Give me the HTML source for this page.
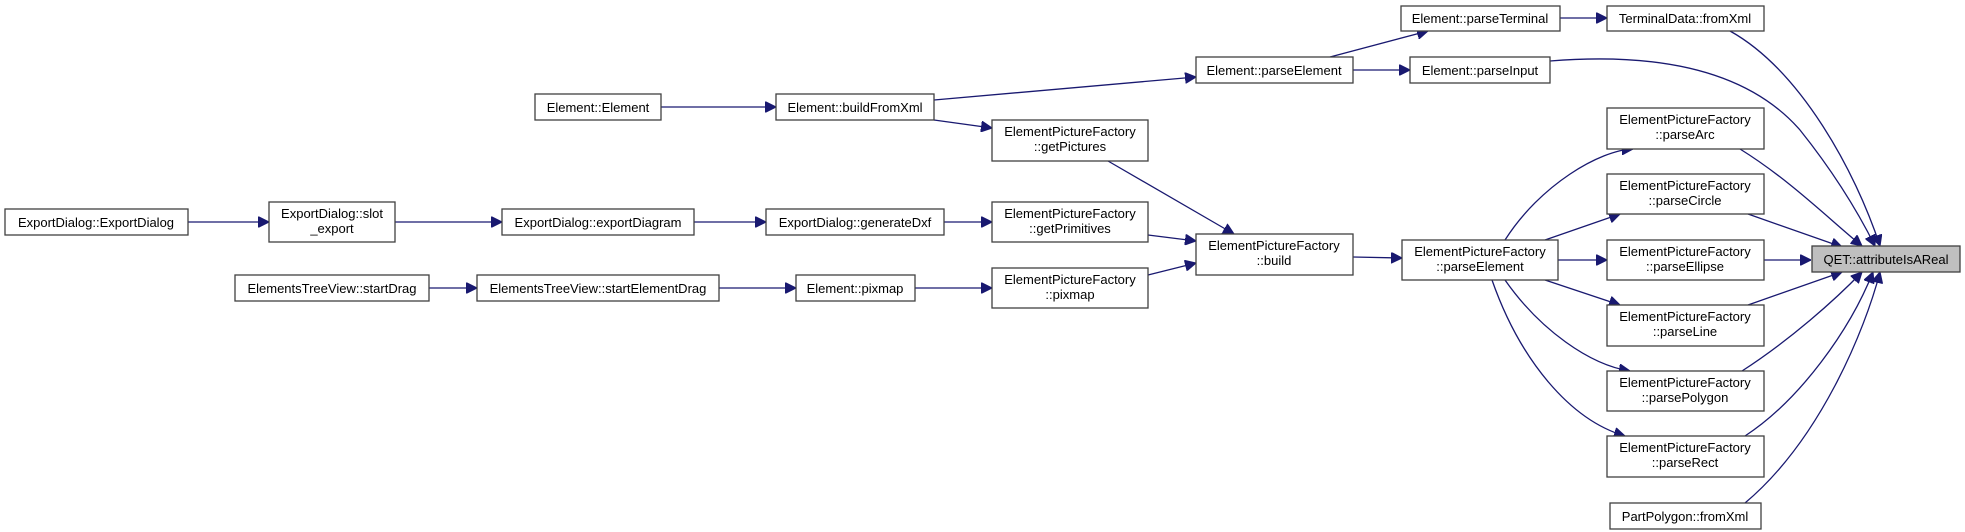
<!DOCTYPE html>
<html><head><meta charset="utf-8"><style>
html,body{margin:0;padding:0;background:#fff;}
svg{display:block;}
text{font-family:"Liberation Sans",Arial,sans-serif;font-size:13px;fill:#000;}
.n{fill:#fff;stroke:#404040;stroke-width:1.3;}
.e{fill:none;stroke:#191970;stroke-width:1.3;}
</style></head><body>
<svg width="1965" height="532" viewBox="0 0 1965 532" xmlns="http://www.w3.org/2000/svg">
<defs>
<marker id="a" viewBox="0 0 10 10" refX="10" refY="5" markerWidth="11" markerHeight="11" markerUnits="userSpaceOnUse" orient="auto">
<path d="M0,0 L10,5 L0,10 z" fill="#191970" stroke="#191970"/>
</marker>
</defs>
<g class="edges">
<path class="e" marker-end="url(#a)" d="M661,107 L776,107"/>
<path class="e" marker-end="url(#a)" d="M934,100 L1196,77"/>
<path class="e" marker-end="url(#a)" d="M934,120 L992,128"/>
<path class="e" marker-end="url(#a)" d="M1353,70 L1410,70"/>
<path class="e" marker-end="url(#a)" d="M1330,57 L1428,31"/>
<path class="e" marker-end="url(#a)" d="M1560,18 L1607,18"/>
<path class="e" marker-end="url(#a)" d="M1730,31 C1800,70 1855,170 1880,246"/>
<path class="e" marker-end="url(#a)" d="M1550,61 C1600,57 1730,50 1800,130 C1840,180 1862,220 1875,246"/>
<path class="e" marker-end="url(#a)" d="M1108,161 L1234,234"/>
<path class="e" marker-end="url(#a)" d="M1148,235 L1196,241"/>
<path class="e" marker-end="url(#a)" d="M1148,275 L1196,263"/>
<path class="e" marker-end="url(#a)" d="M188,222 L269,222"/>
<path class="e" marker-end="url(#a)" d="M395,222 L502,222"/>
<path class="e" marker-end="url(#a)" d="M694,222 L766,222"/>
<path class="e" marker-end="url(#a)" d="M944,222 L992,222"/>
<path class="e" marker-end="url(#a)" d="M429,288 L477,288"/>
<path class="e" marker-end="url(#a)" d="M719,288 L796,288"/>
<path class="e" marker-end="url(#a)" d="M915,288 L992,288"/>
<path class="e" marker-end="url(#a)" d="M1353,257 L1402,258"/>
<path class="e" marker-end="url(#a)" d="M1505,240 C1540,185 1600,150 1633,149"/>
<path class="e" marker-end="url(#a)" d="M1545,240 L1620,214"/>
<path class="e" marker-end="url(#a)" d="M1558,260 L1607,260"/>
<path class="e" marker-end="url(#a)" d="M1545,280 L1620,305"/>
<path class="e" marker-end="url(#a)" d="M1505,280 C1540,330 1590,365 1630,371"/>
<path class="e" marker-end="url(#a)" d="M1492,280 C1520,360 1570,420 1625,436"/>
<path class="e" marker-end="url(#a)" d="M1740,149 C1790,180 1830,220 1862,246"/>
<path class="e" marker-end="url(#a)" d="M1748,214 L1842,247"/>
<path class="e" marker-end="url(#a)" d="M1764,260 L1811,260"/>
<path class="e" marker-end="url(#a)" d="M1748,305 L1842,272"/>
<path class="e" marker-end="url(#a)" d="M1742,371 C1790,340 1835,300 1862,272"/>
<path class="e" marker-end="url(#a)" d="M1745,436 C1800,400 1850,330 1873,272"/>
<path class="e" marker-end="url(#a)" d="M1745,503 C1820,440 1865,330 1880,272"/>
</g>
<g class="nodes">
<rect class="n" x="535" y="94" width="126" height="26"/><text x="598" y="112" text-anchor="middle">Element::Element</text>
<rect class="n" x="776" y="94" width="158" height="26"/><text x="855" y="112" text-anchor="middle">Element::buildFromXml</text>
<rect class="n" x="5" y="209" width="183" height="26"/><text x="96" y="227" text-anchor="middle">ExportDialog::ExportDialog</text>
<rect class="n" x="269" y="202" width="126" height="40"/><text x="332" y="218" text-anchor="middle">ExportDialog::slot</text><text x="332" y="233" text-anchor="middle">_export</text>
<rect class="n" x="502" y="209" width="192" height="26"/><text x="598" y="227" text-anchor="middle">ExportDialog::exportDiagram</text>
<rect class="n" x="766" y="209" width="178" height="26"/><text x="855" y="227" text-anchor="middle">ExportDialog::generateDxf</text>
<rect class="n" x="235" y="275" width="194" height="26"/><text x="332" y="293" text-anchor="middle">ElementsTreeView::startDrag</text>
<rect class="n" x="477" y="275" width="242" height="26"/><text x="598" y="293" text-anchor="middle">ElementsTreeView::startElementDrag</text>
<rect class="n" x="796" y="275" width="119" height="26"/><text x="855" y="293" text-anchor="middle">Element::pixmap</text>
<rect class="n" x="1401" y="6" width="159" height="25"/><text x="1480" y="23" text-anchor="middle">Element::parseTerminal</text>
<rect class="n" x="1607" y="6" width="157" height="25"/><text x="1685" y="23" text-anchor="middle">TerminalData::fromXml</text>
<rect class="n" x="1196" y="57" width="157" height="26"/><text x="1274" y="75" text-anchor="middle">Element::parseElement</text>
<rect class="n" x="1410" y="57" width="140" height="26"/><text x="1480" y="75" text-anchor="middle">Element::parseInput</text>
<rect class="n" x="992" y="120" width="156" height="41"/><text x="1070" y="136" text-anchor="middle">ElementPictureFactory</text><text x="1070" y="151" text-anchor="middle">::getPictures</text>
<rect class="n" x="992" y="202" width="156" height="40"/><text x="1070" y="218" text-anchor="middle">ElementPictureFactory</text><text x="1070" y="233" text-anchor="middle">::getPrimitives</text>
<rect class="n" x="992" y="268" width="156" height="40"/><text x="1070" y="284" text-anchor="middle">ElementPictureFactory</text><text x="1070" y="299" text-anchor="middle">::pixmap</text>
<rect class="n" x="1196" y="234" width="157" height="41"/><text x="1274" y="250" text-anchor="middle">ElementPictureFactory</text><text x="1274" y="265" text-anchor="middle">::build</text>
<rect class="n" x="1402" y="240" width="156" height="40"/><text x="1480" y="256" text-anchor="middle">ElementPictureFactory</text><text x="1480" y="271" text-anchor="middle">::parseElement</text>
<rect class="n" x="1607" y="108" width="157" height="41"/><text x="1685" y="124" text-anchor="middle">ElementPictureFactory</text><text x="1685" y="139" text-anchor="middle">::parseArc</text>
<rect class="n" x="1607" y="174" width="157" height="40"/><text x="1685" y="190" text-anchor="middle">ElementPictureFactory</text><text x="1685" y="205" text-anchor="middle">::parseCircle</text>
<rect class="n" x="1607" y="240" width="157" height="40"/><text x="1685" y="256" text-anchor="middle">ElementPictureFactory</text><text x="1685" y="271" text-anchor="middle">::parseEllipse</text>
<rect class="n" x="1607" y="305" width="157" height="41"/><text x="1685" y="321" text-anchor="middle">ElementPictureFactory</text><text x="1685" y="336" text-anchor="middle">::parseLine</text>
<rect class="n" x="1607" y="371" width="157" height="40"/><text x="1685" y="387" text-anchor="middle">ElementPictureFactory</text><text x="1685" y="402" text-anchor="middle">::parsePolygon</text>
<rect class="n" x="1607" y="436" width="157" height="41"/><text x="1685" y="452" text-anchor="middle">ElementPictureFactory</text><text x="1685" y="467" text-anchor="middle">::parseRect</text>
<rect class="n" x="1610" y="503" width="151" height="26"/><text x="1685" y="521" text-anchor="middle">PartPolygon::fromXml</text>
<rect x="1812" y="246" width="148" height="26" fill="#bfbfbf" stroke="#404040" stroke-width="1.3"/><text x="1886" y="264" text-anchor="middle">QET::attributeIsAReal</text>
</g>
</svg>
</body></html>
